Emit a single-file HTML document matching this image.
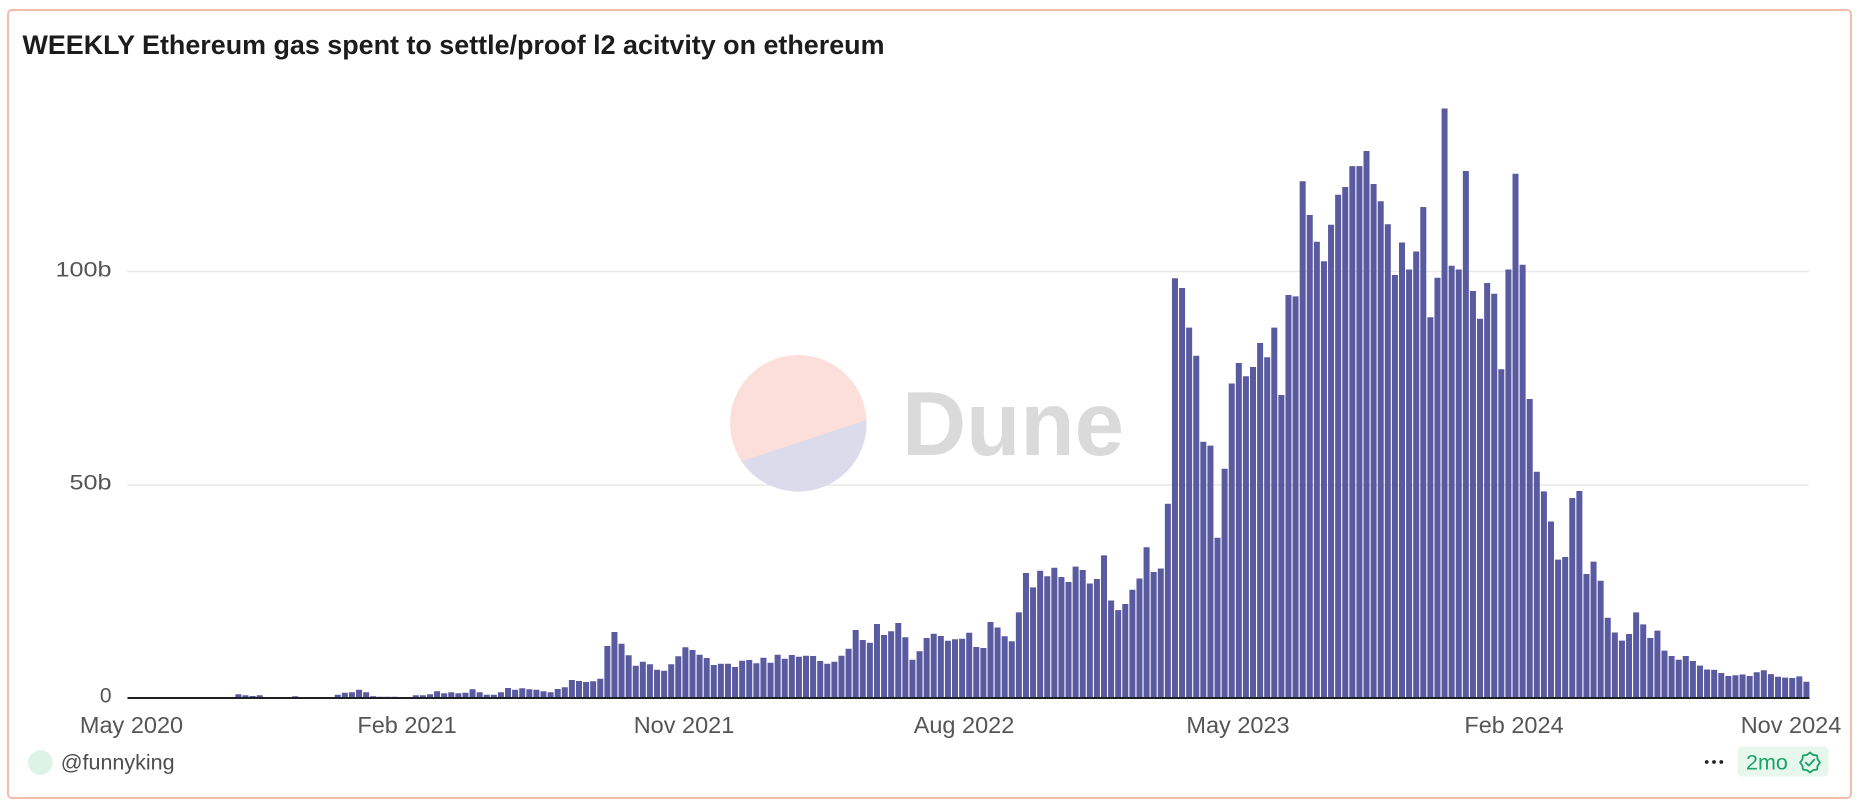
<!DOCTYPE html>
<html>
<head>
<meta charset="utf-8">
<style>
html,body{margin:0;padding:0;background:#ffffff;}
body{width:1860px;height:812px;overflow:hidden;}
svg{display:block;}
text{font-family:"Liberation Sans",Arial,sans-serif;}
</style>
</head>
<body>
<svg width="1860" height="812" viewBox="0 0 1860 812" xmlns="http://www.w3.org/2000/svg">
  <defs>
    <clipPath id="wm">
      <circle cx="798.3" cy="423.3" r="68.3"/>
    </clipPath>
  </defs>
  <rect x="0" y="0" width="1860" height="812" fill="#ffffff"/>
  <!-- card -->
  <rect x="8" y="10" width="1843" height="788" rx="4" ry="4" fill="#ffffff" stroke="#f3bba8" stroke-width="2"/>

  <!-- title -->
  <text x="22.5" y="54" font-size="26.5" font-weight="bold" fill="#1c1c1c" textLength="862" lengthAdjust="spacingAndGlyphs">WEEKLY Ethereum gas spent to settle/proof l2 acitvity on ethereum</text>

  <!-- gridlines -->
  <line x1="127" y1="271.5" x2="1809" y2="271.5" stroke="#e8e8e8" stroke-width="1.5"/>
  <line x1="127" y1="485" x2="1809" y2="485" stroke="#e8e8e8" stroke-width="1.5"/>

  <!-- watermark -->
  <g>
    <circle cx="798.3" cy="423.3" r="68.3" fill="#fcdfda"/>
    <polygon points="720,468.2 880,415.6 880,500 720,500" fill="#dcdbeb" clip-path="url(#wm)"/>
    <text x="902" y="455" font-size="91" font-weight="bold" fill="#dadada" textLength="222" lengthAdjust="spacingAndGlyphs">Dune</text>
  </g>

  <!-- y labels -->
  <text x="111.5" y="276.7" font-size="21" fill="#555555" text-anchor="end" textLength="56" lengthAdjust="spacingAndGlyphs">100b</text>
  <text x="111.5" y="489.5" font-size="21" fill="#555555" text-anchor="end" textLength="42" lengthAdjust="spacingAndGlyphs">50b</text>
  <text x="111.5" y="702.7" font-size="21" fill="#555555" text-anchor="end">0</text>

  <!-- bars -->
  <path fill="#5a5aa0" d="M121.9 698
m7.095 0 m7.095 0
m7.095 0v-.8h6V698z m7.095 0v-.5h6V698z
m7.095 0 m7.095 0 m7.095 0 m7.095 0 m7.095 0 m7.095 0 m7.095 0 m7.095 0 m7.095 0 m7.095 0 m7.095 0
m7.095 0v-3.7h6V698z m7.095 0v-2.7h6V698z m7.095 0v-2h6V698z m7.095 0v-2.7h6V698z m7.095 0v-1h6V698z
m7.095 0 m7.095 0
m7.095 0v-1h6V698z m7.095 0v-1.7h6V698z m7.095 0v-.7h6V698z
m7.095 0 m7.095 0 m7.095 0 m7.095 0
m7.095 0v-3.3h6V698z m7.095 0v-5.3h6V698z m7.095 0v-5.7h6V698z m7.095 0v-8.3h6V698z m7.095 0v-5.7h6V698z
m7.095 0v-1.7h6V698z m7.095 0v-1.3h6V698z m7.095 0v-1.3h6V698z m7.095 0v-1.3h6V698z
m7.095 0
m7.095 0v-.7h6V698z m7.095 0v-2.7h6V698z m7.095 0v-2.7h6V698z m7.095 0v-3.7h6V698z m7.095 0v-6.7h6V698z
m7.095 0v-4.7h6V698z m7.095 0v-5.7h6V698z m7.095 0v-4.7h6V698z m7.095 0v-5.3h6V698z m7.095 0v-8.7h6V698z
m7.095 0v-5.7h6V698z m7.095 0v-3.3h6V698z m7.095 0v-3.3h6V698z m7.095 0v-5.7h6V698z m7.095 0v-10h6V698z
m7.095 0v-8.3h6V698z m7.095 0v-9.7h6V698z m7.095 0v-8.7h6V698z m7.095 0v-8.3h6V698z m7.095 0v-6.7h6V698z
m7.095 0v-5.7h6V698z m7.095 0v-9h6V698z m7.095 0v-10.7h6V698z m7.095 0v-18h6V698z m7.095 0v-17h6V698z
m7.095 0v-16h6V698z m7.095 0v-16.7h6V698z m7.095 0v-19.3h6V698z m7.095 0v-52h6V698z m7.095 0v-66h6V698z
m7.095 0v-54.3h6V698z m7.095 0v-42.7h6V698z m7.095 0v-32.3h6V698z m7.095 0v-36.3h6V698z m7.095 0v-33.7h6V698z
m7.095 0v-28.3h6V698z m7.095 0v-27.3h6V698z m7.095 0v-33.7h6V698z m7.095 0v-41.7h6V698z m7.095 0v-50.7h6V698z
m7.095 0v-48h6V698z m7.095 0v-43.3h6V698z m7.095 0v-40h6V698z m7.095 0v-33h6V698z m7.095 0v-34.3h6V698z
m7.095 0v-34.3h6V698z m7.095 0v-31h6V698z m7.095 0v-37.3h6V698z m7.095 0v-38h6V698z m7.095 0v-34.7h6V698z
m7.095 0v-40.3h6V698z m7.095 0v-35.3h6V698z m7.095 0v-43.3h6V698z m7.095 0v-39.3h6V698z m7.095 0v-43h6V698z
m7.095 0v-41.3h6V698z m7.095 0v-42.3h6V698z m7.095 0v-42h6V698z m7.095 0v-37h6V698z m7.095 0v-34.3h6V698z
m7.095 0v-36.3h6V698z m7.095 0v-42.3h6V698z m7.095 0v-49.3h6V698z m7.095 0v-68h6V698z m7.095 0v-58h6V698z
m7.095 0v-55.3h6V698z m7.095 0v-74h6V698z m7.095 0v-63h6V698z m7.095 0v-66.7h6V698z m7.095 0v-75h6V698z
m7.095 0v-60.7h6V698z m7.095 0v-38.3h6V698z m7.095 0v-46.7h6V698z m7.095 0v-60h6V698z m7.095 0v-64.3h6V698z
m7.095 0v-62h6V698z m7.095 0v-57.3h6V698z m7.095 0v-58.7h6V698z m7.095 0v-59.3h6V698z m7.095 0v-65.3h6V698z
m7.095 0v-51h6V698z m7.095 0v-50h6V698z m7.095 0v-76h6V698z m7.095 0v-70.5h6V698z m7.095 0v-61.7h6V698z
m7.095 0v-56.7h6V698z m7.095 0v-85.6h6V698z m7.095 0v-125h6V698z m7.095 0v-110.6h6V698z m7.095 0v-127.2h6V698z
m7.095 0v-121.8h6V698z m7.095 0v-130.3h6V698z m7.095 0v-121h6V698z m7.095 0v-116h6V698z m7.095 0v-131.4h6V698z
m7.095 0v-128h6V698z m7.095 0v-114.5h6V698z m7.095 0v-119h6V698z m7.095 0v-142.6h6V698z m7.095 0v-97.5h6V698z
m7.095 0v-87.9h6V698z m7.095 0v-94h6V698z m7.095 0v-108.3h6V698z m7.095 0v-119.5h6V698z m7.095 0v-150.7h6V698z
m7.095 0v-126h6V698z m7.095 0v-129.5h6V698z m7.095 0v-194.2h6V698z m7.095 0v-419.7h6V698z m7.095 0v-410h6V698z
m7.095 0v-370.4h6V698z m7.095 0v-342.2h6V698z m7.095 0v-256.3h6V698z m7.095 0v-252.4h6V698z m7.095 0v-160.3h6V698z
m7.095 0v-229.3h6V698z m7.095 0v-314.5h6V698z m7.095 0v-335h6V698z m7.095 0v-321.8h6V698z m7.095 0v-331h6V698z
m7.095 0v-355h6V698z m7.095 0v-340.7h6V698z m7.095 0v-370.4h6V698z m7.095 0v-303h6V698z m7.095 0v-403h6V698z
m7.095 0v-401.6h6V698z m7.095 0v-516.8h6V698z m7.095 0v-483h6V698z m7.095 0v-456.3h6V698z m7.095 0v-436.7h6V698z
m7.095 0v-473.3h6V698z m7.095 0v-503.3h6V698z m7.095 0v-511h6V698z m7.095 0v-531.9h6V698z m7.095 0v-531.9h6V698z
m7.095 0v-547h6V698z m7.095 0v-514h6V698z m7.095 0v-496.8h6V698z m7.095 0v-473.7h6V698z m7.095 0v-423h6V698z
m7.095 0v-455.5h6V698z m7.095 0v-428.5h6V698z m7.095 0v-446.5h6V698z m7.095 0v-491h6V698z m7.095 0v-380.8h6V698z
m7.095 0v-420.3h6V698z m7.095 0v-589.5h6V698z m7.095 0v-432.3h6V698z m7.095 0v-428.5h6V698z m7.095 0v-527h6V698z
m7.095 0v-407h6V698z m7.095 0v-379.3h6V698z m7.095 0v-415h6V698z m7.095 0v-404.3h6V698z m7.095 0v-328.7h6V698z
m7.095 0v-428.5h6V698z m7.095 0v-524.3h6V698z m7.095 0v-433.3h6V698z m7.095 0v-299h6V698z m7.095 0v-226.2h6V698z
m7.095 0v-206.6h6V698z m7.095 0v-176.5h6V698z m7.095 0v-138.4h6V698z m7.095 0v-141h6V698z m7.095 0v-200h6V698z
m7.095 0v-207h6V698z m7.095 0v-124h6V698z m7.095 0v-136.4h6V698z m7.095 0v-117.2h6V698z m7.095 0v-80.2h6V698z
m7.095 0v-65.5h6V698z m7.095 0v-57.4h6V698z m7.095 0v-64h6V698z m7.095 0v-85.6h6V698z m7.095 0v-73.6h6V698z
m7.095 0v-60h6V698z m7.095 0v-67.4h6V698z m7.095 0v-47.4h6V698z m7.095 0v-42h6V698z m7.095 0v-38.2h6V698z
m7.095 0v-42h6V698z m7.095 0v-37h6V698z m7.095 0v-32.4h6V698z m7.095 0v-28.5h6V698z m7.095 0v-28.1h6V698z
m7.095 0v-25h6V698z m7.095 0v-22h6V698z m7.095 0v-22.7h6V698z m7.095 0v-23.5h6V698z m7.095 0v-22h6V698z
m7.095 0v-25.8h6V698z m7.095 0v-27.7h6V698z m7.095 0v-23.9h6V698z m7.095 0v-21.2h6V698z m7.095 0v-20.4h6V698z
m7.095 0v-20h6V698z m7.095 0v-21.6h6V698z m7.095 0v-16.2h6V698z"/>

  <!-- x axis line -->
  <line x1="127.5" y1="698" x2="1809.5" y2="698" stroke="#1e1e24" stroke-width="2"/>

  <!-- x labels -->
  <g font-size="23.5" fill="#555555" text-anchor="middle">
    <text x="131.5" y="733">May 2020</text>
    <text x="407" y="733">Feb 2021</text>
    <text x="684" y="733">Nov 2021</text>
    <text x="964" y="733">Aug 2022</text>
    <text x="1238" y="733">May 2023</text>
    <text x="1514" y="733">Feb 2024</text>
    <text x="1791" y="733">Nov 2024</text>
  </g>

  <!-- footer left -->
  <circle cx="40.3" cy="762.5" r="12.3" fill="#dcf3e6"/>
  <text x="60.7" y="769.5" font-size="21.5" fill="#4d4d4d">@funnyking</text>

  <!-- footer right -->
  <circle cx="1706.7" cy="762" r="1.9" fill="#222222"/>
  <circle cx="1714" cy="762" r="1.9" fill="#222222"/>
  <circle cx="1721.3" cy="762" r="1.9" fill="#222222"/>
  <rect x="1737.5" y="746.5" width="91" height="30" rx="5" ry="5" fill="#e7f7ee"/>
  <text x="1746" y="769.3" font-size="21.5" fill="#1aa468">2mo</text>
  <polygon points="1820,762.5 1817.58,765.64 1817.07,769.57 1813.14,770.08 1810,772.5 1806.86,770.08 1802.93,769.57 1802.42,765.64 1800,762.5 1802.42,759.36 1802.93,755.43 1806.86,754.92 1810,752.5 1813.14,754.92 1817.07,755.43 1817.58,759.36" fill="none" stroke="#1aa468" stroke-width="1.8" stroke-linejoin="round"/>
  <polyline points="1805.8,762.6 1808.8,765.6 1814.3,759.6" fill="none" stroke="#1aa468" stroke-width="1.8" stroke-linecap="round" stroke-linejoin="round"/>
</svg>
</body>
</html>
